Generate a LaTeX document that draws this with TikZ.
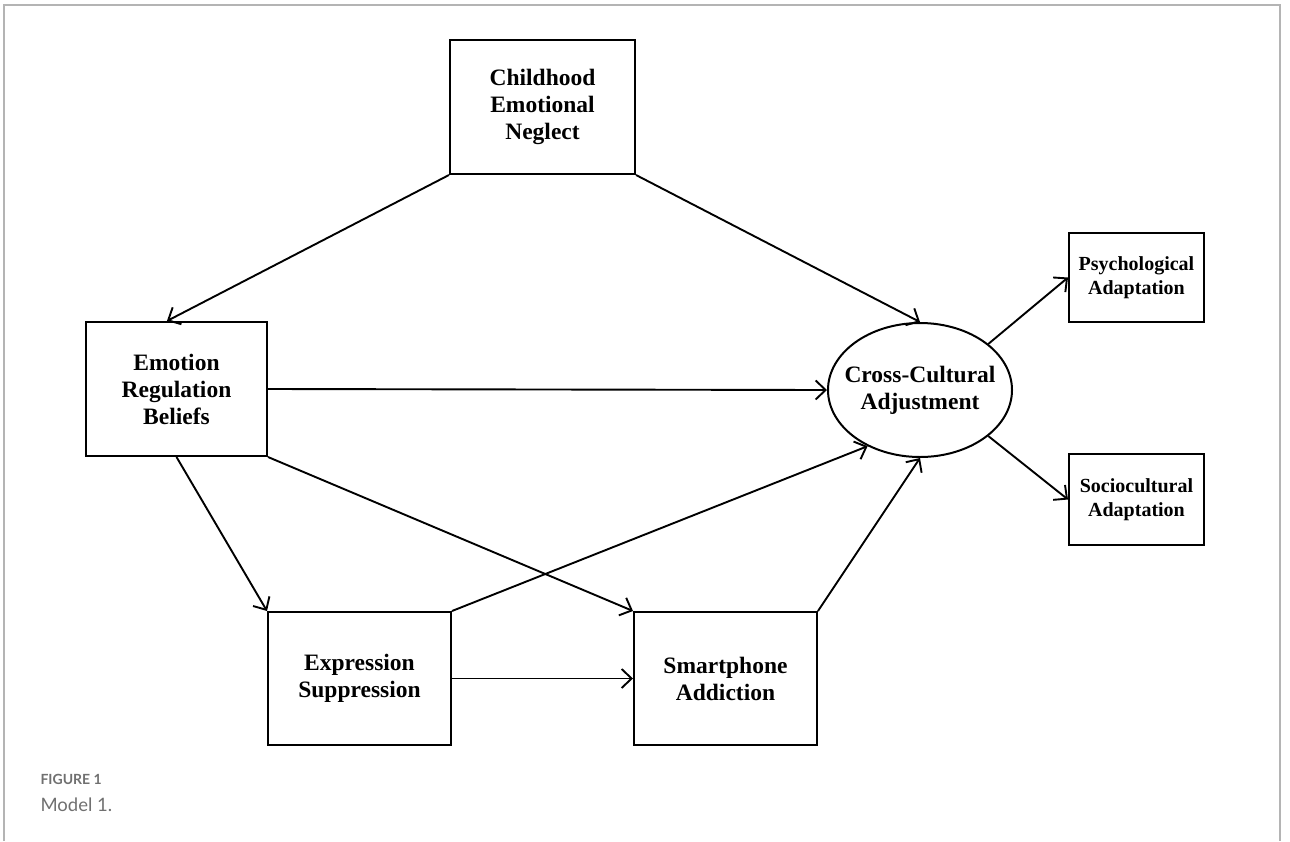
\documentclass[tikz,border=0pt]{standalone}
\usepackage{fontspec}
\setmainfont{Liberation Serif}
\newfontfamily\capfont{Lato}
\usetikzlibrary{arrows.meta,shapes.geometric}
\definecolor{framegray}{HTML}{B4B4B4}
\definecolor{capgray}{HTML}{707070}
\begin{document}
\begin{tikzpicture}[x=1pt,y=-1pt,
  box/.style={draw, line width=2pt, align=center, inner sep=0pt,
    font=\fontsize{23.5}{27}\selectfont\bfseries},
  smallbox/.style={draw, line width=2pt, align=center, inner sep=0pt,
    font=\fontsize{20}{24}\selectfont\bfseries},
  conn/.style={line width=1.9pt, -{Straight Barb[length=10pt,width=19pt,line width=1.9pt]}},
  frameline/.style={draw=framegray, line width=1.5pt}]
\useasboundingbox (0,0) rectangle (1290,841);
\draw[frameline] (4,841) -- (4,5) -- (1280,5) -- (1280,841);

\node[box, minimum width=185pt, minimum height=134pt] (cen) at (542.5,107) {Childhood\\Emotional\\Neglect};
\node[box, minimum width=181pt, minimum height=134pt] (erb) at (176.5,389) {Emotion\\Regulation\\Beliefs};
\node[box, minimum width=183pt, minimum height=133pt] (es) at (359.5,678.5) {Expression\\Suppression};
\node[box, minimum width=183pt, minimum height=133pt] (sa) at (725.5,678.5) {Smartphone\\Addiction};
\node[draw, ellipse, line width=2pt, minimum width=184pt, minimum height=134pt, inner sep=0pt] (cca) at (920,390) {};
\node[align=center, font=\fontsize{23.5}{27}\selectfont\bfseries] (ccat) at (cca) {Cross-Cultural\\Adjustment};
\node[smallbox, minimum width=135pt, minimum height=89pt] (pa) at (1136.5,277.5) {Psychological\\Adaptation};
\node[smallbox, minimum width=135pt, minimum height=91pt] (sca) at (1136.5,499.5) {Sociocultural\\Adaptation};

\draw[conn] (cen.south west) -- (erb.98);
\draw[conn] (cen.south east) -- (cca.north);
\draw[conn] (erb.east) -- (cca.west);
\draw[conn] (erb.south east) -- (sa.north west);
\draw[conn] (erb.south) -- (es.north west);
\draw[conn] (es.north east) -- (cca.227.6);
\draw[conn] (es.east) -- (sa.west);
\draw[conn] (sa.north east) -- (cca.south);
\draw[conn] (cca.34) -- (pa.west);
\draw[conn] (cca.-34) -- (sca.west);

\node[anchor=base west, text=capgray, font=\capfont\bfseries\fontsize{14}{16}\selectfont] (cap1) at (37,784) {FIGURE 1};
\node[anchor=base west, text=capgray, font=\capfont\fontsize{18.5}{20}\selectfont] (cap2) at (37,811) {Model 1.};
\end{tikzpicture}
\end{document}
